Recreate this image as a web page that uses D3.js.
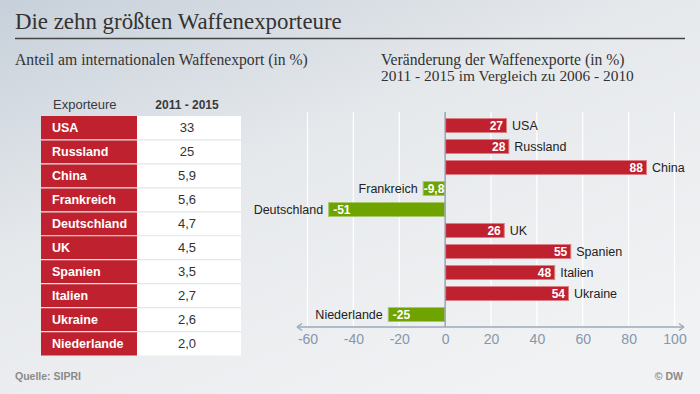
<!DOCTYPE html>
<html>
<head>
<meta charset="utf-8">
<script src="https://cdn.jsdelivr.net/npm/d3@7"></script>
<style>
  html, body { margin: 0; padding: 0; }
  body { width: 700px; height: 394px; overflow: hidden; }
</style>
</head>
<body>
<div id="chart"></div>
<script>
const width = 700;
const height = 394;

// data
const exporters = ['USA', 'Russland', 'China', 'Frankreich', 'Deutschland', 'UK', 'Spanien', 'Italien', 'Ukraine', 'Niederlande'];
const shares = [33, 25, 5.9, 5.6, 4.7, 4.5, 3.5, 2.7, 2.6, 2.0];
const changes = [27, 28, 88, -9.8, -51, 26, 55, 48, 54, -25];
const xTicks = [-60, -40, -20, 0, 20, 40, 60, 80, 100];

const red = '#c0212e';
const green = '#6fa300';
const serif = "'Liberation Serif', 'Times New Roman', serif";
const sans = "'Liberation Sans', Arial, sans-serif";

const svg = d3.select('#chart').append('svg')
  .attr('width', width)
  .attr('height', height);

// background gradient
const grad = svg.append('defs').append('linearGradient')
  .attr('id', 'bg')
  .attr('x1', '0%').attr('y1', '0%')
  .attr('x2', '70%').attr('y2', '100%');
grad.append('stop').attr('offset', '0%').attr('stop-color', '#c7d0da');
grad.append('stop').attr('offset', '45%').attr('stop-color', '#e6e9ec');
grad.append('stop').attr('offset', '100%').attr('stop-color', '#f1f2f4');
svg.append('rect').attr('width', width).attr('height', height).attr('fill', 'url(#bg)');

// serif text, sized so it spans the same width as the original
function serifText(xPos, yPos, str, size, targetWidth) {
  const t = svg.append('text')
    .attr('x', xPos).attr('y', yPos)
    .style('font-family', serif).style('font-size', size + 'px').attr('fill', '#333')
    .text(str);
  const w = t.node().getComputedTextLength();
  if (w > 0) {
    const fitted = Math.max(size * 0.9, Math.min(size * 1.12, size * targetWidth / w));
    t.style('font-size', fitted + 'px');
  }
  return t;
}

// title
serifText(15, 29, 'Die zehn größten Waffenexporteure', 22, 327);
svg.append('line')
  .attr('x1', 15).attr('x2', 685).attr('y1', 38.5).attr('y2', 38.5)
  .attr('stroke', '#444').attr('stroke-width', 1.3);

serifText(15, 65, 'Anteil am internationalen Waffenexport (in %)', 14, 293);
serifText(381, 65, 'Veränderung der Waffenexporte (in %)', 14, 246);
serifText(381, 81, '2011 - 2015 im Vergleich zu 2006 - 2010', 14, 253);

// table
const fmtShare = v => (v >= 10 ? d3.format('d')(v) : d3.format('.1f')(v).replace('.', ','));
const rowScale = d3.scaleBand().domain(exporters).range([116, 355.5]).padding(0);
const col0 = 41;
const col1 = 137;
const col2 = 241;

const table = svg.append('g').attr('id', 'table');
table.append('text')
  .attr('x', 53).attr('y', 108.5)
  .style('font-family', sans).style('font-size', '13px').attr('fill', '#3a3a3a')
  .text('Exporteure');
table.append('text')
  .attr('x', 187).attr('y', 108.5).attr('text-anchor', 'middle')
  .style('font-family', sans).style('font-size', '12px').style('font-weight', 'bold').attr('fill', '#3a3a3a')
  .text('2011 - 2015');

const rows = table.selectAll('g.row')
  .data(exporters)
  .enter()
  .append('g')
  .attr('class', 'row');

rows.append('rect')
  .attr('x', col0).attr('y', d => rowScale(d))
  .attr('width', col1 - col0).attr('height', rowScale.bandwidth())
  .attr('fill', red);
rows.append('rect')
  .attr('x', col1).attr('y', d => rowScale(d))
  .attr('width', col2 - col1).attr('height', rowScale.bandwidth())
  .attr('fill', '#fff');
rows.append('text')
  .attr('x', 52).attr('y', d => rowScale(d) + rowScale.bandwidth() / 2 + 4.5)
  .style('font-family', sans).style('font-size', '12.5px').style('font-weight', 'bold').attr('fill', '#fff')
  .text(d => d);
rows.append('text')
  .attr('x', 187).attr('y', d => rowScale(d) + rowScale.bandwidth() / 2 + 4.5)
  .attr('text-anchor', 'middle')
  .style('font-family', sans).style('font-size', '13px').attr('fill', '#333')
  .text((d, i) => fmtShare(shares[i]));

// row separators
table.selectAll('line.sep')
  .data(exporters.slice(1))
  .enter()
  .append('line')
  .attr('class', 'sep')
  .attr('x1', col0).attr('x2', col2)
  .attr('y1', d => rowScale(d)).attr('y2', d => rowScale(d))
  .attr('stroke', '#e4e6ea').attr('stroke-width', 1.2);

// bar chart
const x = d3.scaleLinear().domain([-60, 100]).range([307.5, 674.5]);
const y = d3.scaleBand().domain(exporters).range([115, 325])
  .paddingInner(6 / 21).paddingOuter(3 / 21);
const axisY = 327;

const chart = svg.append('g').attr('id', 'bars');

// gridlines
chart.selectAll('line.grid')
  .data(xTicks.filter(t => t !== 0))
  .enter()
  .append('line')
  .attr('class', 'grid')
  .attr('x1', d => x(d)).attr('x2', d => x(d))
  .attr('y1', 112).attr('y2', axisY)
  .attr('stroke', '#fff').attr('stroke-width', 1.2);

const fmtChange = v => String(v).replace('.', ',');

const bars = chart.selectAll('g.bar')
  .data(exporters)
  .enter()
  .append('g')
  .attr('class', 'bar');

bars.append('rect')
  .attr('x', (d, i) => x(Math.min(0, changes[i])) + 0.5)
  .attr('y', d => y(d) + 0.5)
  .attr('width', (d, i) => Math.abs(x(changes[i]) - x(0)) - 1)
  .attr('height', y.bandwidth() - 1)
  .attr('fill', (d, i) => (changes[i] < 0 ? green : red))
  .attr('stroke', (d, i) => (changes[i] < 0 ? '#a9c86a' : '#dc8088'))
  .attr('stroke-width', 1);

// values inside the bars
bars.append('text')
  .attr('x', (d, i) => (changes[i] < 0 ? x(changes[i]) + 5 : x(changes[i]) - 4))
  .attr('y', d => y(d) + y.bandwidth() / 2 + 4.5)
  .attr('text-anchor', (d, i) => (changes[i] < 0 ? 'start' : 'end'))
  .style('font-family', sans).style('font-size', '12px').style('font-weight', 'bold').attr('fill', '#fff')
  .text((d, i) => fmtChange(changes[i]))
  .each(function (d, i) {
    // short negative bars: keep the label inside
    if (changes[i] < 0) {
      const barW = x(0) - x(changes[i]);
      const tw = this.getComputedTextLength();
      const pad = Math.min(5, Math.max(1, (barW - tw) / 2));
      d3.select(this).attr('x', x(changes[i]) + pad);
    }
  });

// country labels next to the bars
bars.append('text')
  .attr('x', (d, i) => (changes[i] < 0 ? x(changes[i]) - 5 : x(changes[i]) + 5))
  .attr('y', d => y(d) + y.bandwidth() / 2 + 4.5)
  .attr('text-anchor', (d, i) => (changes[i] < 0 ? 'end' : 'start'))
  .style('font-family', sans).style('font-size', '12.5px').attr('fill', '#222')
  .text(d => d);

// zero line
chart.append('line')
  .attr('x1', x(0)).attr('x2', x(0))
  .attr('y1', 112).attr('y2', axisY)
  .attr('stroke', '#8194aa').attr('stroke-width', 1.2);

// axis with arrows
const axisColor = '#9aaabb';
chart.append('line')
  .attr('x1', 298).attr('x2', 683)
  .attr('y1', axisY).attr('y2', axisY)
  .attr('stroke', axisColor).attr('stroke-width', 1.5);
chart.append('path')
  .attr('d', `M297,${axisY} l5,-3.5 M297,${axisY} l5,3.5 M684,${axisY} l-5,-3.5 M684,${axisY} l-5,3.5`)
  .attr('stroke', axisColor).attr('stroke-width', 1.5).attr('fill', 'none');

const axis = chart.append('g')
  .attr('transform', `translate(0,${axisY})`)
  .call(d3.axisBottom(x).tickValues(xTicks).tickSize(0).tickPadding(7).tickFormat(d => String(d)));
axis.select('.domain').remove();
axis.selectAll('text')
  .style('font-family', sans).style('font-size', '14px').attr('fill', '#8597ab');

// footer
svg.append('text')
  .attr('x', 15).attr('y', 380)
  .style('font-family', sans).style('font-size', '10.5px').style('font-weight', 'bold').attr('fill', '#8a8a8a')
  .text('Quelle: SIPRI');
svg.append('text')
  .attr('x', 683).attr('y', 380).attr('text-anchor', 'end')
  .style('font-family', sans).style('font-size', '10.5px').style('font-weight', 'bold').attr('fill', '#8a8a8a')
  .text('© DW');
</script>
</body>
</html>
